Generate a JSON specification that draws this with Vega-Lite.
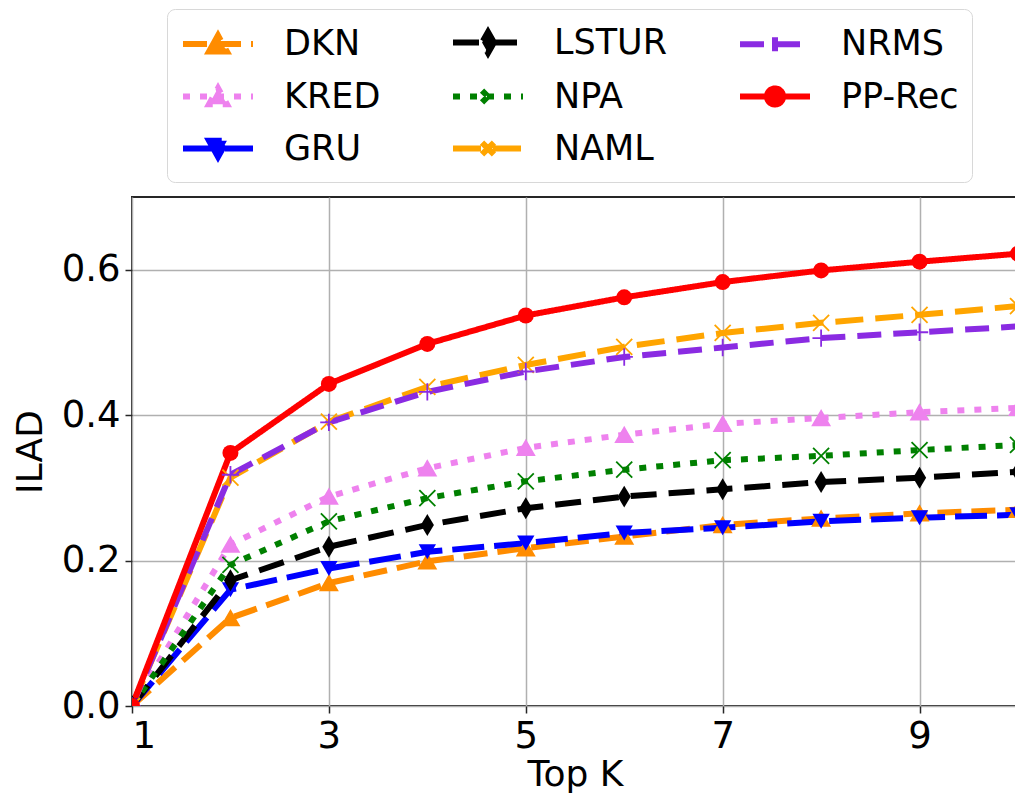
{
  "$schema": "https://vega.github.io/schema/vega-lite/v6.json",
  "width": 886,
  "height": 509,
  "autosize": {"type": "none"},
  "padding": {"left": 132, "top": 197, "right": 0, "bottom": 92},
  "background": "white",
  "config": {
    "font": "DejaVu Sans",
    "view": {"stroke": "#262626", "strokeWidth": 2},
    "axis": {
      "labelFont": "DejaVu Sans",
      "titleFont": "DejaVu Sans",
      "labelFontSize": 37,
      "titleFontSize": 36,
      "labelColor": "#000000",
      "titleColor": "#000000",
      "titleFontWeight": "normal",
      "tickColor": "#262626",
      "tickSize": 7,
      "tickWidth": 1.5,
      "domain": false,
      "gridColor": "#b0b0b0",
      "gridWidth": 1.5,
      "labelPadding": 5
    },
    "legend": {
      "labelFont": "DejaVu Sans",
      "labelFontSize": 35,
      "labelColor": "#000000",
      "symbolOpacity": 1
    }
  },
  "data": {
    "values": [
      {"k": 1, "m": "DKN", "v": 0}, {"k": 2, "m": "DKN", "v": 0.121}, {"k": 3, "m": "DKN", "v": 0.169}, {"k": 4, "m": "DKN", "v": 0.199}, {"k": 5, "m": "DKN", "v": 0.217}, {"k": 6, "m": "DKN", "v": 0.233}, {"k": 7, "m": "DKN", "v": 0.249}, {"k": 8, "m": "DKN", "v": 0.258}, {"k": 9, "m": "DKN", "v": 0.265}, {"k": 10, "m": "DKN", "v": 0.270},
      {"k": 1, "m": "KRED", "v": 0}, {"k": 2, "m": "KRED", "v": 0.222}, {"k": 3, "m": "KRED", "v": 0.288}, {"k": 4, "m": "KRED", "v": 0.327}, {"k": 5, "m": "KRED", "v": 0.355}, {"k": 6, "m": "KRED", "v": 0.373}, {"k": 7, "m": "KRED", "v": 0.388}, {"k": 8, "m": "KRED", "v": 0.396}, {"k": 9, "m": "KRED", "v": 0.404}, {"k": 10, "m": "KRED", "v": 0.410},
      {"k": 1, "m": "GRU", "v": 0}, {"k": 2, "m": "GRU", "v": 0.160}, {"k": 3, "m": "GRU", "v": 0.189}, {"k": 4, "m": "GRU", "v": 0.212}, {"k": 5, "m": "GRU", "v": 0.224}, {"k": 6, "m": "GRU", "v": 0.238}, {"k": 7, "m": "GRU", "v": 0.245}, {"k": 8, "m": "GRU", "v": 0.254}, {"k": 9, "m": "GRU", "v": 0.259}, {"k": 10, "m": "GRU", "v": 0.263},
      {"k": 1, "m": "LSTUR", "v": 0}, {"k": 2, "m": "LSTUR", "v": 0.173}, {"k": 3, "m": "LSTUR", "v": 0.219}, {"k": 4, "m": "LSTUR", "v": 0.249}, {"k": 5, "m": "LSTUR", "v": 0.272}, {"k": 6, "m": "LSTUR", "v": 0.288}, {"k": 7, "m": "LSTUR", "v": 0.298}, {"k": 8, "m": "LSTUR", "v": 0.308}, {"k": 9, "m": "LSTUR", "v": 0.314}, {"k": 10, "m": "LSTUR", "v": 0.322},
      {"k": 1, "m": "NPA", "v": 0}, {"k": 2, "m": "NPA", "v": 0.194}, {"k": 3, "m": "NPA", "v": 0.254}, {"k": 4, "m": "NPA", "v": 0.286}, {"k": 5, "m": "NPA", "v": 0.309}, {"k": 6, "m": "NPA", "v": 0.325}, {"k": 7, "m": "NPA", "v": 0.338}, {"k": 8, "m": "NPA", "v": 0.344}, {"k": 9, "m": "NPA", "v": 0.352}, {"k": 10, "m": "NPA", "v": 0.359},
      {"k": 1, "m": "NAML", "v": 0}, {"k": 2, "m": "NAML", "v": 0.314}, {"k": 3, "m": "NAML", "v": 0.391}, {"k": 4, "m": "NAML", "v": 0.439}, {"k": 5, "m": "NAML", "v": 0.469}, {"k": 6, "m": "NAML", "v": 0.494}, {"k": 7, "m": "NAML", "v": 0.513}, {"k": 8, "m": "NAML", "v": 0.527}, {"k": 9, "m": "NAML", "v": 0.538}, {"k": 10, "m": "NAML", "v": 0.550},
      {"k": 1, "m": "NRMS", "v": 0}, {"k": 2, "m": "NRMS", "v": 0.318}, {"k": 3, "m": "NRMS", "v": 0.390}, {"k": 4, "m": "NRMS", "v": 0.432}, {"k": 5, "m": "NRMS", "v": 0.460}, {"k": 6, "m": "NRMS", "v": 0.480}, {"k": 7, "m": "NRMS", "v": 0.493}, {"k": 8, "m": "NRMS", "v": 0.506}, {"k": 9, "m": "NRMS", "v": 0.514}, {"k": 10, "m": "NRMS", "v": 0.522},
      {"k": 1, "m": "PP-Rec", "v": 0}, {"k": 2, "m": "PP-Rec", "v": 0.348}, {"k": 3, "m": "PP-Rec", "v": 0.443}, {"k": 4, "m": "PP-Rec", "v": 0.498}, {"k": 5, "m": "PP-Rec", "v": 0.537}, {"k": 6, "m": "PP-Rec", "v": 0.562}, {"k": 7, "m": "PP-Rec", "v": 0.583}, {"k": 8, "m": "PP-Rec", "v": 0.599}, {"k": 9, "m": "PP-Rec", "v": 0.611}, {"k": 10, "m": "PP-Rec", "v": 0.622}
    ]
  },
  "encoding": {
    "x": {
      "field": "k", "type": "quantitative",
      "scale": {"domain": [1, 10], "nice": false, "zero": false},
      "axis": {"values": [1, 3, 5, 7, 9], "title": "Top K", "titlePadding": 3}
    },
    "y": {
      "field": "v", "type": "quantitative",
      "scale": {"domain": [0, 0.7], "nice": false},
      "axis": {"values": [0, 0.2, 0.4, 0.6], "format": ".1f", "title": "ILAD", "titlePadding": 12}
    }
  },
  "layer": [
    {
      "mark": {"type": "line", "clip": true},
      "encoding": {
        "color": {
          "field": "m", "type": "nominal",
          "scale": {
            "domain": ["DKN", "LSTUR", "NRMS", "KRED", "NPA", "PP-Rec", "GRU", "NAML"],
            "range": ["#ff8c00", "#000000", "#8a2be2", "#ee82ee", "#008000", "#ff0000", "#0000ff", "#ffa500"]
          }
        },
        "strokeDash": {
          "field": "m", "type": "nominal",
          "scale": {
            "domain": ["DKN", "LSTUR", "NRMS", "KRED", "NPA", "PP-Rec", "GRU", "NAML"],
            "range": [[24, 10], [26, 12], [24, 12], [7, 10], [7, 10], [1, 0], [32, 10], [28, 12]]
          }
        },
        "strokeWidth": {
          "field": "m", "type": "nominal", "legend": null,
          "scale": {
            "domain": ["DKN", "LSTUR", "NRMS", "KRED", "NPA", "PP-Rec", "GRU", "NAML"],
            "range": [6, 6, 6, 6, 6, 4, 6, 6]
          }
        }
      }
    },
    {
      "transform": [{"filter": "datum.m == 'DKN' || datum.m == 'KRED'"}],
      "mark": {"type": "point", "clip": true, "shape": "triangle-up", "size": 300, "strokeWidth": 1.5, "opacity": 1},
      "encoding": {
        "fill": {"field": "m", "type": "nominal", "legend": null, "scale": {"domain": ["DKN", "KRED"], "range": ["#ff8c00", "#ee82ee"]}},
        "stroke": {"field": "m", "type": "nominal", "legend": null, "scale": {"domain": ["DKN", "KRED"], "range": ["#ff8c00", "#ee82ee"]}}
      }
    },
    {
      "transform": [{"filter": "datum.m == 'GRU'"}],
      "mark": {"type": "point", "clip": true, "shape": "triangle-down", "size": 300, "strokeWidth": 1.5, "opacity": 1, "filled": true, "color": "#0000ff"},
      "encoding": {}
    },
    {
      "transform": [{"filter": "datum.m == 'LSTUR'"}],
      "mark": {"type": "point", "clip": true, "shape": "M0,-1L0.6,0L0,1L-0.6,0Z", "size": 480, "strokeWidth": 1.5, "opacity": 1, "filled": true, "color": "#000000"},
      "encoding": {}
    },
    {
      "transform": [{"filter": "datum.m == 'NPA'"}],
      "mark": {"type": "point", "clip": true, "shape": "M-1,-1L1,1M-1,1L1,-1", "size": 256, "strokeWidth": 1.8, "opacity": 1, "filled": false, "color": "#008000"},
      "encoding": {}
    },
    {
      "transform": [{"filter": "datum.m == 'NAML'"}],
      "mark": {"type": "point", "clip": true, "shape": "M-1,-1L1,1M-1,1L1,-1", "size": 256, "strokeWidth": 1.8, "opacity": 1, "filled": false, "color": "#ffa500"},
      "encoding": {}
    },
    {
      "transform": [{"filter": "datum.m == 'NRMS'"}],
      "mark": {"type": "point", "clip": true, "shape": "M-1,0L1,0M0,-1L0,1", "size": 300, "strokeWidth": 1.8, "opacity": 1, "filled": false, "color": "#8a2be2"},
      "encoding": {}
    },
    {
      "transform": [{"filter": "datum.m == 'PP-Rec'"}],
      "mark": {"type": "point", "clip": true, "shape": "circle", "size": 256, "strokeWidth": 1.5, "opacity": 1, "filled": true, "color": "#ff0000"},
      "encoding": {}
    },
    {
      "transform": [{"filter": "datum.k > 100"}],
      "mark": {"type": "point", "filled": true, "opacity": 1},
      "encoding": {
        "color": {
          "field": "m", "type": "nominal",
          "legend": {
            "title": null,
            "orient": "none",
            "legendX": 35,
            "legendY": -188,
            "columns": 3,
            "direction": "horizontal",
            "symbolSize": 1225,
            "symbolStrokeWidth": 5,
            "labelOffset": 63,
            "columnPadding": 60,
            "rowPadding": 11,
            "padding": 13,
            "strokeColor": "#d8d8d8",
            "fillColor": "#ffffff",
            "cornerRadius": 8,
            "gridAlign": "each",
            "encode": {
              "symbols": {
                "update": {
                  "stroke": {"scale": "color", "field": "value"},
                  "fill": {"scale": "color", "field": "value"}
                }
              }
            }
          }
        },
        "strokeDash": {"field": "m", "type": "nominal"},
        "shape": {
          "field": "m", "type": "nominal",
          "scale": {
            "domain": ["DKN", "LSTUR", "NRMS", "KRED", "NPA", "PP-Rec", "GRU", "NAML"],
            "range": [
              "M-1,0L3,0M0.49,0.44L1,-0.48L1.51,0.44Z",
              "M-1,0L3,0M1,-0.6L1.34,0L1,0.6L0.66,0Z",
              "M-1,0L3,0M1,-0.4L1,0.4",
              "M-1,0L3,0M0.49,0.44L1,-0.48L1.51,0.44Z",
              "M-1,0L3,0M0.66,-0.34L1.34,0.34M0.66,0.34L1.34,-0.34",
              "M-1,0L3,0M0.54,0A0.46,0.46,0,1,0,1.46,0A0.46,0.46,0,1,0,0.54,0Z",
              "M-1,0L3,0M0.49,-0.44L1,0.48L1.51,-0.44Z",
              "M-1,0L3,0M0.66,-0.34L1.34,0.34M0.66,0.34L1.34,-0.34"
            ]
          }
        }
      }
    }
  ]
}
